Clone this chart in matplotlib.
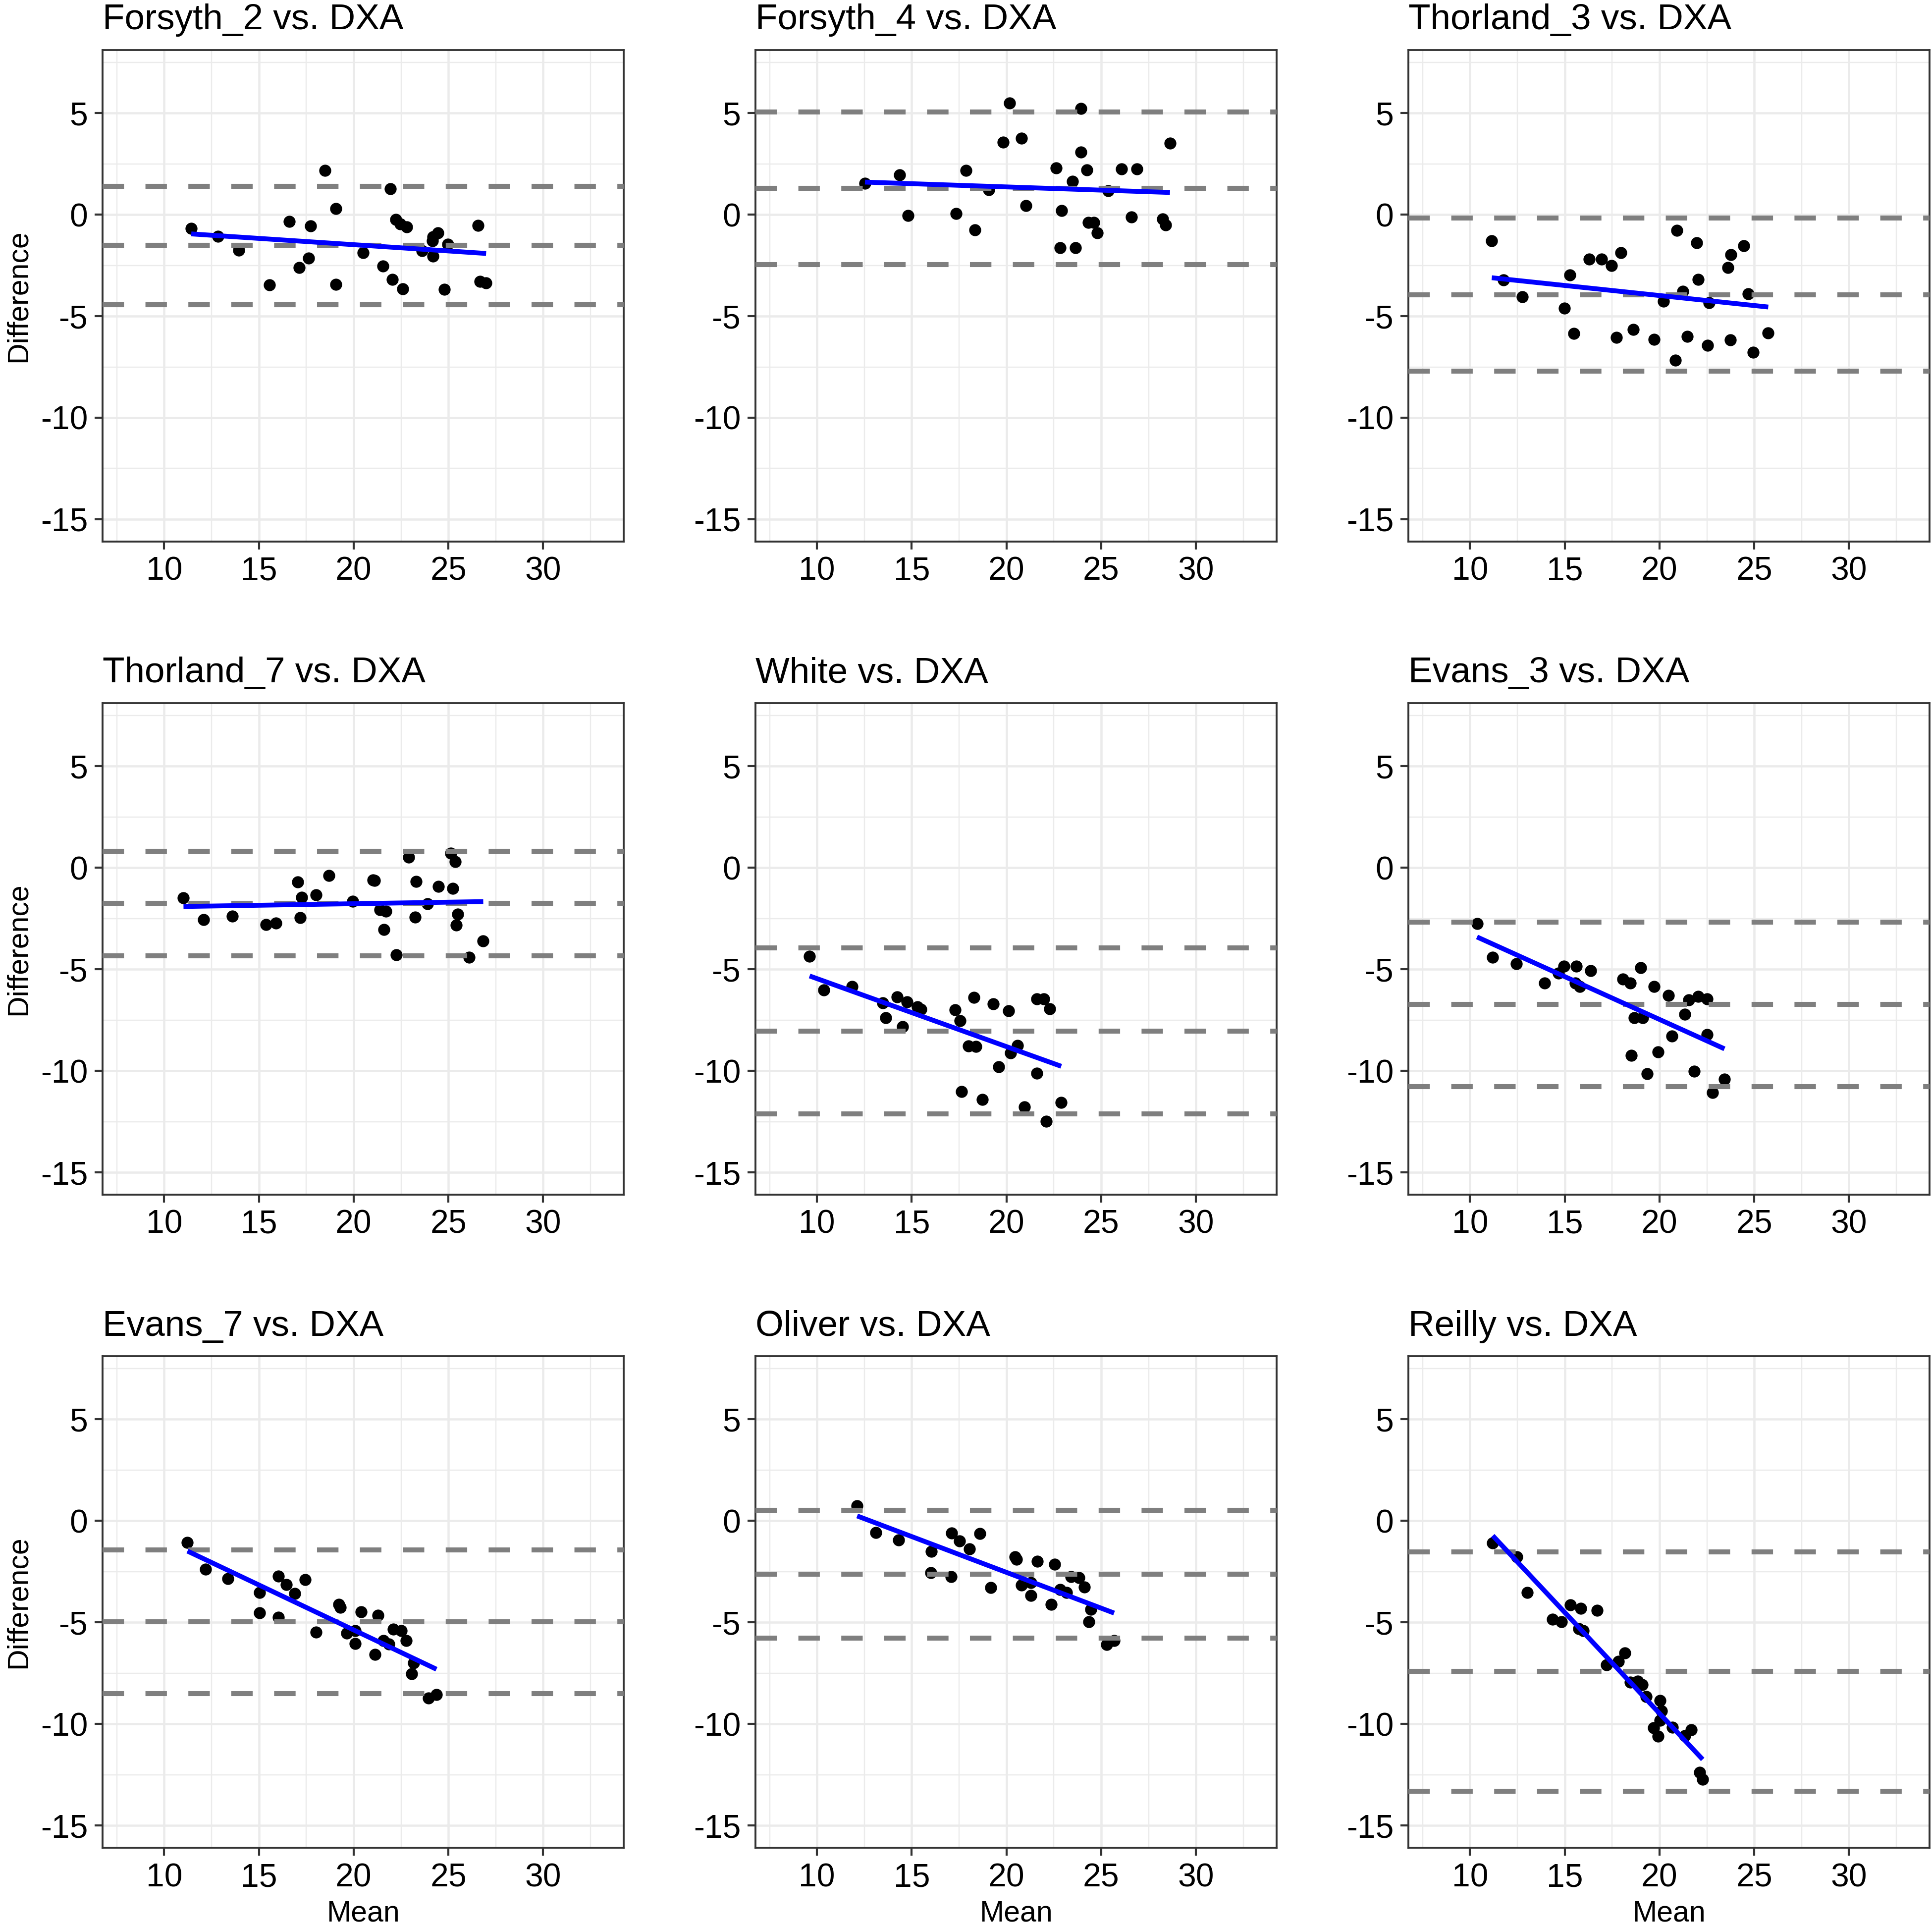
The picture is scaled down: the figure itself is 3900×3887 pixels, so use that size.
import numpy as np
import matplotlib
matplotlib.use("Agg")
import matplotlib.pyplot as plt
from matplotlib.ticker import MultipleLocator

plt.rcParams['font.family'] = ['Liberation Sans', 'DejaVu Sans']
plt.rcParams['axes.unicode_minus'] = False

# =========================================================
# DATA
# =========================================================
titles = ["Forsyth_2 vs. DXA", "Forsyth_4 vs. DXA", "Thorland_3 vs. DXA",
          "Thorland_7 vs. DXA", "White vs. DXA", "Evans_3 vs. DXA",
          "Evans_7 vs. DXA", "Oliver vs. DXA", "Reilly vs. DXA"]

forsyth2_mean = [11.43, 12.85, 13.94, 16.61, 17.74, 18.48, 19.05, 15.56, 17.13, 17.63,
                 19.05, 20.50, 21.94, 22.23, 22.46, 22.80, 21.55, 22.03, 22.58, 23.60,
                 24.15, 24.46, 24.19, 24.96, 24.19, 24.78, 26.56, 26.68, 26.99]
forsyth2_diff = [-0.67, -1.06, -1.75, -0.34, -0.55, 2.17, 0.30, -3.47, -2.61, -2.14,
                 -3.44, -1.88, 1.28, -0.24, -0.45, -0.61, -2.54, -3.20, -3.66, -1.77,
                 -1.30, -0.89, -1.10, -1.46, -2.04, -3.68, -0.54, -3.28, -3.36]

forsyth4_mean = [12.53, 14.37, 14.81, 17.33, 17.86, 18.34, 19.06, 19.82, 20.16, 20.80,
                 21.02, 22.62, 22.92, 22.82, 23.48, 23.64, 23.93, 23.93, 24.24, 24.31,
                 24.62, 24.78, 25.38, 26.08, 26.60, 26.88, 28.24, 28.40, 28.63]
forsyth4_diff = [1.54, 1.95, -0.04, 0.04, 2.17, -0.75, 1.21, 3.57, 5.49, 3.75,
                 0.45, 2.30, 0.20, -1.64, 1.63, -1.64, 3.07, 5.22, 2.20, -0.38,
                 -0.38, -0.91, 1.17, 2.25, -0.13, 2.25, -0.21, -0.52, 3.52]

thorland3_mean = [11.15, 11.77, 12.77, 15.28, 14.98, 15.49, 16.29, 16.94, 17.46, 17.97,
                  17.74, 18.62, 19.72, 20.21, 20.83, 20.92, 21.22, 21.47, 21.96, 22.05,
                  22.53, 22.63, 23.62, 23.74, 23.78, 24.45, 24.68, 24.95, 25.74]
thorland3_diff = [-1.28, -3.21, -4.04, -2.97, -4.62, -5.86, -2.20, -2.20, -2.52, -1.87,
                  -6.04, -5.65, -6.14, -4.27, -7.17, -0.79, -3.78, -6.00, -1.38, -3.20,
                  -6.45, -4.33, -2.62, -6.16, -1.98, -1.54, -3.90, -6.77, -5.83]

thorland7_mean = [11.02, 12.09, 13.60, 15.37, 15.90, 17.04, 17.25, 17.18, 18.02, 18.70,
                  19.95, 21.02, 21.11, 21.39, 21.69, 21.61, 22.26, 22.91, 23.30, 23.25,
                  23.89, 24.48, 25.12, 25.35, 25.23, 25.49, 25.41, 26.84, 26.10]
thorland7_diff = [-1.49, -2.55, -2.39, -2.80, -2.74, -0.71, -1.45, -2.46, -1.34, -0.39,
                  -1.65, -0.61, -0.63, -2.06, -2.14, -3.04, -4.28, 0.52, -0.67, -2.44,
                  -1.77, -0.92, 0.71, 0.30, -1.01, -2.28, -2.83, -3.61, -4.42]

white_mean = [9.61, 10.37, 11.85, 13.48, 13.64, 14.24, 14.76, 14.53, 15.30, 15.48,
              17.29, 17.54, 18.27, 19.30, 20.12, 21.59, 21.98, 22.28, 18.00, 18.39,
              20.59, 20.23, 19.59, 21.59, 17.63, 18.73, 20.96, 22.89, 22.10]
white_diff = [-4.36, -6.03, -5.86, -6.65, -7.38, -6.37, -6.60, -7.83, -6.85, -6.97,
              -7.00, -7.53, -6.39, -6.70, -7.04, -6.45, -6.45, -6.94, -8.78, -8.81,
              -8.75, -9.12, -9.81, -10.12, -11.03, -11.42, -11.79, -11.55, -12.48]

evans3_mean = [10.37, 11.18, 12.44, 13.94, 14.68, 14.95, 15.60, 15.57, 15.80, 16.36,
               18.06, 18.45, 19.00, 19.72, 20.48, 21.54, 22.05, 22.51, 18.68, 19.12,
               21.33, 20.65, 22.51, 18.50, 19.93, 19.35, 21.82, 23.43, 22.79]
evans3_diff = [-2.76, -4.40, -4.74, -5.67, -5.20, -4.85, -4.85, -5.69, -5.85, -5.06,
               -5.49, -5.69, -4.92, -5.84, -6.30, -6.52, -6.33, -6.46, -7.38, -7.40,
               -7.22, -8.28, -8.21, -9.24, -9.07, -10.15, -10.02, -10.42, -11.06]

evans7_mean = [11.23, 12.19, 13.37, 15.03, 15.03, 16.02, 16.02, 16.45, 16.90, 17.45,
               18.02, 19.23, 19.30, 20.39, 21.28, 19.64, 20.09, 20.09, 21.14, 21.57,
               21.87, 22.10, 22.51, 22.78, 23.16, 23.07, 23.96, 24.37]
evans7_diff = [-1.07, -2.39, -2.84, -3.53, -4.53, -4.76, -2.73, -3.15, -3.57, -2.90,
               -5.49, -4.12, -4.27, -4.49, -4.66, -5.53, -5.41, -6.04, -6.57, -5.90,
               -6.08, -5.34, -5.41, -5.90, -7.00, -7.54, -8.73, -8.56]

oliver_mean = [12.12, 13.10, 14.31, 16.04, 16.02, 17.08, 17.11, 17.52, 18.04, 18.59,
               19.16, 20.45, 20.52, 21.64, 22.55, 20.80, 21.30, 21.30, 22.37, 22.82,
               23.16, 23.41, 23.83, 24.12, 24.45, 24.36, 25.29, 25.68]
oliver_diff = [0.75, -0.58, -0.94, -1.51, -2.55, -2.76, -0.60, -1.00, -1.39, -0.62,
               -3.29, -1.78, -1.90, -2.00, -2.13, -3.16, -3.04, -3.68, -4.12, -3.38,
               -3.52, -2.76, -2.80, -3.27, -4.35, -4.96, -6.10, -5.91]

reilly_mean = [11.20, 12.47, 13.02, 14.36, 14.82, 15.30, 15.85, 16.70, 15.74, 15.97,
               18.16, 17.82, 17.21, 18.45, 18.84, 19.08, 19.29, 20.02, 20.11, 20.02,
               19.68, 19.93, 20.69, 21.34, 21.68, 22.12, 22.28]
reilly_diff = [-1.08, -1.78, -3.54, -4.86, -4.96, -4.15, -4.30, -4.40, -5.31, -5.42,
               -6.51, -6.92, -7.09, -7.95, -7.90, -8.07, -8.66, -8.84, -9.37, -9.83,
               -10.18, -10.61, -10.16, -10.59, -10.30, -12.39, -12.74]

means = [forsyth2_mean, forsyth4_mean, thorland3_mean, thorland7_mean, white_mean,
         evans3_mean, evans7_mean, oliver_mean, reilly_mean]
diffs = [forsyth2_diff, forsyth4_diff, thorland3_diff, thorland7_diff, white_diff,
         evans3_diff, evans7_diff, oliver_diff, reilly_diff]

# bias and limits of agreement
bias = [-1.52, 1.29, -3.94, -1.76, -8.05, -6.72, -4.98, -2.63, -7.41]
loa_upper = [1.39, 5.04, -0.18, 0.82, -3.94, -2.68, -1.44, 0.51, -1.52]
loa_lower = [-4.45, -2.45, -7.71, -4.33, -12.13, -10.79, -8.52, -5.77, -13.32]

# linear trend (lm) of each panel
fit_intercept = [-0.243, 1.997, -2.008, -2.077, -2.113, 0.963, 3.481, 4.513, 10.408]
fit_slope = [-0.0619, -0.0317, -0.0988, 0.0152, -0.3348, -0.4217, -0.4427, -0.3526, -0.9945]

# =========================================================
# FIGURE
# =========================================================
fig = plt.figure(figsize=(15.6, 15.548), dpi=250)

col_left = [0.0531, 0.391, 0.729]
row_bottom = [0.7188, 0.3797, 0.0406]
ax_w, ax_h = 0.2697, 0.2552

for i in range(9):
    r, c = divmod(i, 3)
    ax = fig.add_axes([col_left[c], row_bottom[r], ax_w, ax_h])
    x = np.array(means[i])
    y = np.array(diffs[i])

    ax.plot(x, y, 'o', color='black', ms=7, mew=0, zorder=3)
    for val in (loa_upper[i], bias[i], loa_lower[i]):
        ax.axhline(val, color='#7f7f7f', lw=2.9, linestyle=(0, (4.3, 4.3)), zorder=4)
    xs = np.array([x.min(), x.max()])
    ax.plot(xs, fit_intercept[i] + fit_slope[i] * xs, color='#0000ff', lw=2.8,
            solid_capstyle='butt', zorder=5)

    ax.set_xlim(6.75, 34.25)
    ax.set_ylim(-16.1, 8.1)
    ax.xaxis.set_major_locator(MultipleLocator(5))
    ax.yaxis.set_major_locator(MultipleLocator(5))
    ax.xaxis.set_minor_locator(MultipleLocator(2.5))
    ax.yaxis.set_minor_locator(MultipleLocator(2.5))
    ax.grid(True, which='major', color='#ebebeb', lw=1.3, zorder=0)
    ax.grid(True, which='minor', color='#ebebeb', lw=0.7, zorder=0)
    ax.set_axisbelow(True)
    ax.tick_params(which='major', length=4.6, width=1.2, color='#333333',
                   labelsize=19, pad=4, labelcolor='black')
    ax.tick_params(which='minor', length=0)
    for sp in ax.spines.values():
        sp.set_color('#333333')
        sp.set_linewidth(1.1)

    ax.set_title(titles[i], loc='left', fontsize=21, pad=12)
    if c == 0:
        ax.set_ylabel("Difference", fontsize=17, labelpad=5)
    if r == 2:
        ax.set_xlabel("Mean", fontsize=17, labelpad=4)

fig.savefig("out.png", dpi=250, facecolor='white')
